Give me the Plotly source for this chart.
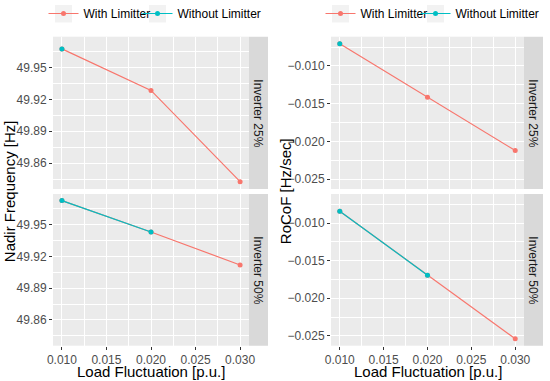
import plotly.graph_objects as go

load = [0.010, 0.020, 0.030]

nadir_with_25 = [49.9675, 49.9284, 49.8425]
nadir_without_25 = [49.9675]
nadir_with_50 = [49.9728, 49.9431, 49.9119]
nadir_without_50 = [49.9728, 49.9431]

rocof_with_25 = [-0.00705, -0.01416, -0.02122]
rocof_without_25 = [-0.00705]
rocof_with_50 = [-0.00842, -0.01693, -0.02540]
rocof_without_50 = [-0.00842, -0.01693]

x_ticks = [0.010, 0.015, 0.020, 0.025, 0.030]
nadir_ticks = [49.86, 49.89, 49.92, 49.95]
rocof_ticks = [-0.025, -0.020, -0.015, -0.010]
facets = ["Inverter 25%", "Inverter 50%"]
series_names = ["With Limitter", "Without Limitter"]

RED = "#F8766D"
TEAL = "#00BFC4"
W, H = 550, 381

def px_x(v):
    return v / W

def px_y(v):
    return 1 - v / H

fig = go.Figure()

# panel geometry (pixels)
cols = [(53, 249, 268), (331, 524, 543)]
rows = [(36.7, 189), (194, 345.7)]

axis_ids = {}
k = 0
for ci in range(2):
    for ri in range(2):
        k += 1
        axis_ids[(ri, ci)] = k

data = {
    (0, 0): (nadir_with_25, nadir_without_25),
    (1, 0): (nadir_with_50, nadir_without_50),
    (0, 1): (rocof_with_25, rocof_without_25),
    (1, 1): (rocof_with_50, rocof_without_50),
}

# one legend per entry so each key can be placed like the reference
legend_ids = {(0, 0): "legend", (0, 1): "legend2", (1, 0): "legend3", (1, 1): "legend4"}

for (ri, ci), (yw, ywo) in data.items():
    n = axis_ids[(ri, ci)]
    xa = "x" if n == 1 else f"x{n}"
    ya = "y" if n == 1 else f"y{n}"
    show = ri == 0
    fig.add_trace(go.Scatter(
        x=load[:len(yw)], y=yw, mode="lines+markers", name=series_names[0],
        line=dict(color=RED, width=1.2), marker=dict(color=RED, size=5),
        xaxis=xa, yaxis=ya, legend=legend_ids[(ci, 0)], showlegend=show,
        legendgroup=f"w{ci}"))
    fig.add_trace(go.Scatter(
        x=load[:len(ywo)], y=ywo, mode="lines+markers", name=series_names[1],
        line=dict(color=TEAL, width=1.2), marker=dict(color=TEAL, size=5),
        xaxis=xa, yaxis=ya, legend=legend_ids[(ci, 1)], showlegend=show,
        legendgroup=f"wo{ci}"))

layout = dict(
    width=W, height=H, margin=dict(l=0, r=0, t=0, b=0, autoexpand=False),
    paper_bgcolor="white", plot_bgcolor="#EBEBEB",
    font=dict(family="Liberation Sans, Arial, sans-serif", color="#4D4D4D", size=12),
    showlegend=True,
)

shapes = []
annotations = []
for (ri, ci), n in axis_ids.items():
    x0, x1, s1 = cols[ci]
    y0, y1 = rows[ri]
    xk = "xaxis" if n == 1 else f"xaxis{n}"
    yk = "yaxis" if n == 1 else f"yaxis{n}"
    ya = "y" if n == 1 else f"y{n}"
    xa = "x" if n == 1 else f"x{n}"
    bottom = ri == 1
    layout[xk] = dict(
        domain=[px_x(x0), px_x(x1)], anchor=ya, range=[0.009, 0.031],
        tickvals=x_ticks, tickformat=".3f", showticklabels=bottom,
        ticks="outside" if bottom else "", ticklen=3, tickcolor="#333333",
        showgrid=True, gridcolor="white", gridwidth=1.1, zeroline=False,
        minor=dict(showgrid=True, gridcolor="white", gridwidth=0.5, dtick=0.005, tick0=0.0125),
        tickfont=dict(size=12, color="#4D4D4D"), showline=False, automargin=False,
    )
    if ci == 0:
        yrange = [49.8356, 49.9790]
        yt = nadir_ticks
        fmt = ".2f"
        mtick0 = 49.845
        mdt = 0.03
    else:
        yrange = [-0.02632, -0.00613]
        yt = rocof_ticks
        fmt = ".3f"
        mtick0 = -0.0275
        mdt = 0.005
    layout[yk] = dict(
        domain=[px_y(y1), px_y(y0)], anchor=xa, range=yrange,
        tickvals=yt, tickformat=fmt, ticks="outside", ticklen=3, tickcolor="#333333",
        showgrid=True, gridcolor="white", gridwidth=1.1, zeroline=False,
        minor=dict(showgrid=True, gridcolor="white", gridwidth=0.5, dtick=mdt, tick0=mtick0),
        tickfont=dict(size=12, color="#4D4D4D"), automargin=False,
    )
    # strip
    shapes.append(dict(type="rect", xref="paper", yref="paper",
                       x0=px_x(x1), x1=px_x(s1), y0=px_y(y1), y1=px_y(y0),
                       fillcolor="#D9D9D9", line=dict(width=0), layer="below"))
    annotations.append(dict(xref="paper", yref="paper", x=px_x((x1 + s1) / 2),
                            y=px_y((y0 + y1) / 2), text=facets[ri], textangle=90,
                            showarrow=False, font=dict(size=12, color="#1A1A1A"),
                            xanchor="center", yanchor="middle"))

# axis titles
ytitles = ["Nadir Frequency [Hz]", "RoCoF [Hz/sec]"]
for ci, (x0, x1, s1) in enumerate(cols):
    annotations.append(dict(xref="paper", yref="paper", x=px_x((x0 + x1) / 2),
                            y=px_y(371.5), text="Load Fluctuation [p.u.]", showarrow=False,
                            font=dict(size=15, color="black"), xanchor="center", yanchor="middle"))
    annotations.append(dict(xref="paper", yref="paper", x=px_x(x0 - 44 if ci == 0 else x0 - 46),
                            y=px_y((rows[0][0] + rows[1][1]) / 2), text=ytitles[ci], textangle=-90,
                            showarrow=False, font=dict(size=15, color="black"),
                            xanchor="center", yanchor="middle"))

# grey key boxes behind legend symbols
for kx in [55, 149, 332, 427]:
    shapes.append(dict(type="rect", xref="paper", yref="paper",
                       x0=px_x(kx), x1=px_x(kx + 17), y0=px_y(22.5), y1=px_y(5),
                       fillcolor="#F2F2F2", line=dict(width=0), layer="below"))

leg_x = {"legend": 43.5, "legend2": 137.5, "legend3": 320.5, "legend4": 415.5}
for name, lx in leg_x.items():
    layout[name] = dict(orientation="h", x=px_x(lx), y=px_y(-1), xanchor="left", yanchor="top",
                        bgcolor="rgba(0,0,0,0)", font=dict(size=12, color="black"),
                        itemwidth=30, tracegroupgap=0)
layout["shapes"] = shapes
layout["annotations"] = annotations
fig.update_layout(**layout)

fig.write_html("out.html", config={"displayModeBar": False},
               post_script="document.body.style.margin='0';")
